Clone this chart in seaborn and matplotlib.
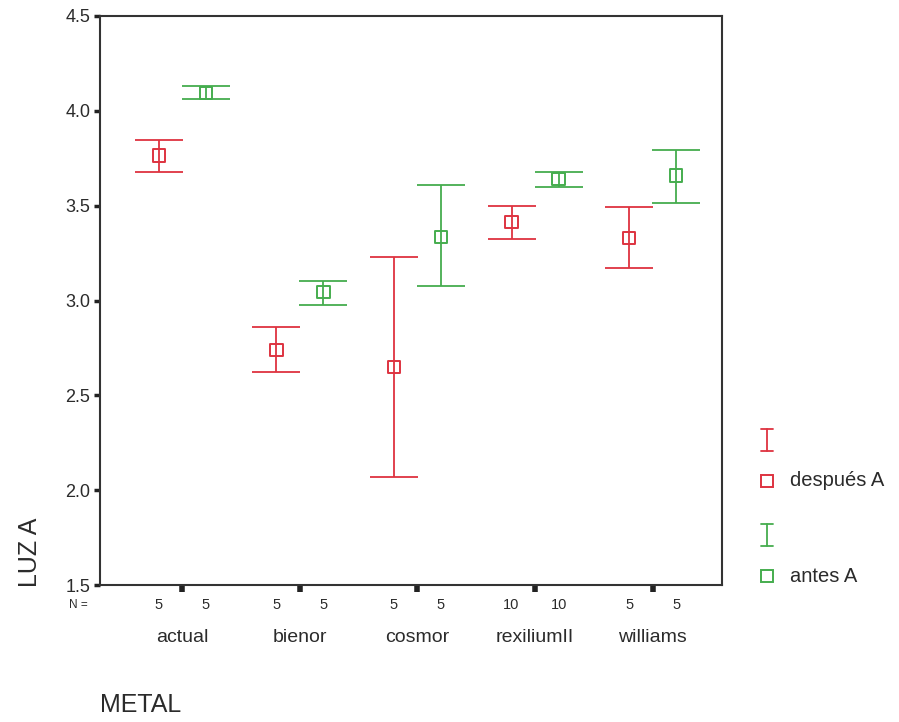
import numpy as np
import matplotlib
matplotlib.use("Agg")
import matplotlib.pyplot as plt
import seaborn as sns
from matplotlib.lines import Line2D

categories = ["actual", "bienor", "cosmor", "rexiliumII", "williams"]
series_names = ["después A", "antes A"]

despues_mean = [3.765, 2.74, 2.65, 3.415, 3.33]
despues_low = [3.68, 2.625, 2.07, 3.325, 3.17]
despues_high = [3.845, 2.86, 3.23, 3.50, 3.495]
despues_n = [5, 5, 5, 10, 5]

antes_mean = [4.095, 3.045, 3.335, 3.64, 3.66]
antes_low = [4.065, 2.975, 3.075, 3.60, 3.515]
antes_high = [4.13, 3.105, 3.61, 3.68, 3.795]
antes_n = [5, 5, 5, 10, 5]

yticks = [1.5, 2.0, 2.5, 3.0, 3.5, 4.0, 4.5]

sns.set_theme(style="white")
plt.rcParams["font.family"] = ["Liberation Sans", "DejaVu Sans"]

red = "#de3340"
green = "#45ad4e"
txt = "#2b2b2b"

fig = plt.figure(figsize=(8.99, 7.22), dpi=100)
ax = fig.add_axes([100 / 899, 1 - 585 / 722, (722 - 100) / 899, (585 - 16) / 722])

x = np.arange(len(categories))
off = 0.2
series = [
    (despues_mean, despues_low, despues_high, despues_n, red, -off),
    (antes_mean, antes_low, antes_high, antes_n, green, off),
]
for mean, lo, hi, n, col, dx in series:
    mean = np.array(mean)
    err = np.vstack([mean - np.array(lo), np.array(hi) - mean])
    ax.errorbar(x + dx, mean, yerr=err, fmt="none", ecolor=col,
                elinewidth=1.3, capsize=17, capthick=1.3)
    sns.scatterplot(x=x + dx, y=mean, marker="s", s=80, facecolor="none",
                    edgecolor=col, linewidth=1.4, ax=ax, zorder=5)
    for xi, ni in zip(x + dx, n):
        ax.text(xi, -0.036, str(ni), transform=ax.get_xaxis_transform(),
                ha="center", va="center", fontsize=10.5, color=txt)

ax.text(-0.035, -0.036, "N =", transform=ax.transAxes, ha="center",
        va="center", fontsize=8.5, color=txt)

ax.set_xlim(-0.7, len(categories) - 1 + 0.59)
ax.set_ylim(1.5, 4.5)
ax.set_yticks(yticks)
ax.set_yticklabels([f"{v:.1f}" for v in yticks], fontsize=13, color=txt)
ax.set_xticks(x)
ax.set_xticklabels([])
for xi, c in zip(x, categories):
    ax.text(xi, -0.093, c, transform=ax.get_xaxis_transform(),
            ha="center", va="center", fontsize=14, color=txt)

ax.tick_params(axis="y", direction="out", length=4, width=2.5, color="#222222", pad=3, left=True)
ax.tick_params(axis="x", direction="out", length=5, width=4, color="#222222", bottom=True)
for sp in ax.spines.values():
    sp.set_color("#333333")
    sp.set_linewidth(1.5)
ax.grid(False)

fig.text(30 / 899, 1 - 552 / 722, "LUZ A", rotation=90, ha="center",
         va="center", fontsize=18, color=txt)
fig.text(100 / 899, 1 - 705 / 722, "METAL", ha="left", va="center",
         fontsize=18, color=txt)

# legend
lx = 767 / 899
for ybar, ysq, col, lab in [(440, 481, red, "después A"), (535, 576, green, "antes A")]:
    yb = 1 - ybar / 722
    h = 11 / 722
    w = 6 / 899
    fig.add_artist(Line2D([lx, lx], [yb - h, yb + h], color=col, lw=1.3))
    fig.add_artist(Line2D([lx - w, lx + w], [yb + h, yb + h], color=col, lw=1.3))
    fig.add_artist(Line2D([lx - w, lx + w], [yb - h, yb - h], color=col, lw=1.3))
    ys = 1 - ysq / 722
    fig.add_artist(Line2D([lx], [ys], marker="s", markersize=8.5, markerfacecolor="none",
                          markeredgecolor=col, markeredgewidth=1.4, linestyle="none"))
    fig.text(790 / 899, ys, lab, ha="left", va="center", fontsize=14.5, color=txt)

fig.savefig("out.png", dpi=100)
